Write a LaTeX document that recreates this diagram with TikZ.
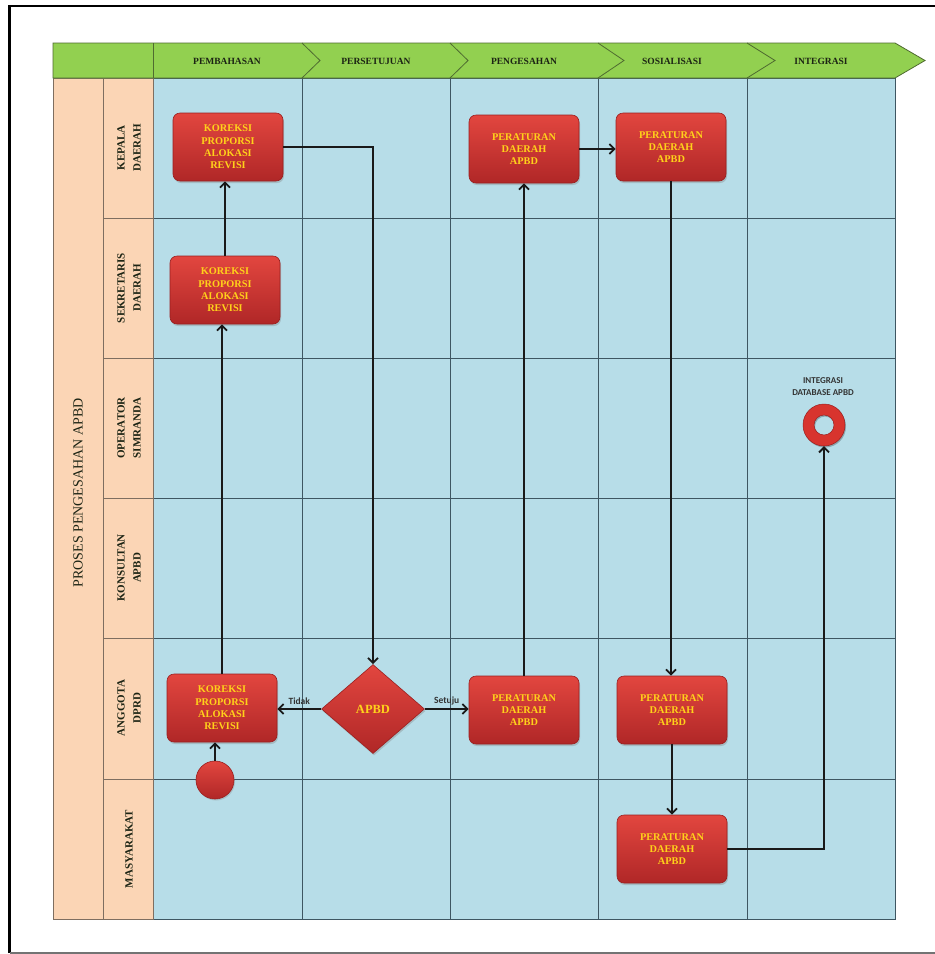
\documentclass[tikz,border=0pt]{standalone}
\usepackage{fontspec}
\setmainfont{Liberation Serif}
\newfontfamily\calib{Carlito}
\usetikzlibrary{arrows.meta,shapes.geometric,shadows}
\definecolor{hdrgreen}{HTML}{92D050}
\definecolor{hdrline}{HTML}{4F6B30}
\definecolor{laneblue}{HTML}{B7DDE8}
\definecolor{lanepeach}{HTML}{FBD5B5}
\definecolor{gridline}{HTML}{3E5662}
\definecolor{peachline}{HTML}{7E6E60}
\definecolor{boxtop}{HTML}{E2463F}
\definecolor{boxbot}{HTML}{B02727}
\definecolor{boxedge}{HTML}{9A1F1F}
\definecolor{boxtext}{HTML}{FFD21A}
\definecolor{ringred}{HTML}{D8342E}
\definecolor{darktext}{HTML}{1C2414}
\tikzset{
  hdrlabel/.style={font=\bfseries\fontsize{9.5}{11}\selectfont, text=darktext},
  rowlabel/.style={rotate=90, align=center, font=\bfseries\fontsize{11}{16}\selectfont, text=darktext},
  procbox/.style={rectangle, rounded corners=7pt, minimum width=110pt, minimum height=68pt,
    inner sep=0pt, top color=boxtop, bottom color=boxbot, draw=boxedge, line width=0.6pt,
    drop shadow={opacity=0.35, shadow xshift=1pt, shadow yshift=-2pt},
    text=boxtext, align=center, font=\bfseries\fontsize{10.3}{12.3}\selectfont},
  decision/.style={diamond, minimum width=103pt, minimum height=89pt, inner sep=0pt,
    top color=boxtop, bottom color=boxbot, draw=boxedge, line width=0.6pt,
    drop shadow={opacity=0.35, shadow xshift=1pt, shadow yshift=-2pt},
    text=boxtext, font=\bfseries\fontsize{12.5}{14}\selectfont},
  startdot/.style={circle, minimum size=38pt, inner sep=0pt, top color=boxtop, bottom color=boxbot,
    draw=boxedge, line width=0.6pt, drop shadow={opacity=0.3, shadow xshift=1pt, shadow yshift=-1.5pt}},
  flow/.style={line width=1.8pt, draw=black!90, -{Straight Barb[length=5pt,width=10pt]}},
  flowlabel/.style={font=\calib\bfseries\fontsize{9.5}{10}\selectfont, text=black!80},
}
\begin{document}
\begin{tikzpicture}[x=1pt,y=-1pt]
\useasboundingbox (0,0) rectangle (935,954);
\fill[white] (0,0) rectangle (935,954);
% frame
\draw[line width=2.5pt, black] (9.5,953) -- (9.5,6) -- (935,6);
\draw[line width=1.2pt, black!55] (9.5,953) -- (935,953);
% lanes
\fill[laneblue] (153,78) rectangle (895,919);
\fill[lanepeach] (53,78) rectangle (153,919);
\foreach \xx in {302,450,598,747} \draw[gridline, line width=0.8pt] (\xx,78) -- (\xx,919);
\foreach \yy in {218,358,498,638,779} {
  \draw[gridline, line width=0.8pt] (153,\yy) -- (895,\yy);
  \draw[peachline, line width=0.8pt] (103,\yy) -- (153,\yy);
}
\draw[gridline, line width=0.8pt] (153,78) rectangle (895,919);
\draw[peachline, line width=0.8pt] (53,78) rectangle (153,919);
\draw[peachline, line width=0.8pt] (103,78) -- (103,919);
% header
\draw[fill=hdrgreen, draw=hdrline, line width=0.8pt] (53,43) -- (895,43) -- (925,60.5) -- (895,78) -- (53,78) -- cycle;
\draw[hdrline, line width=0.8pt] (153,43) -- (153,78);
\foreach \bx/\tx in {302/320,450/468,598/624,747/775}
  \draw[hdrline, line width=0.8pt] (\bx,43) -- (\tx,60.5) -- (\bx,78);
\node[hdrlabel] (h1) at (227,61) {PEMBAHASAN};
\node[hdrlabel] (h2) at (376,61) {PERSETUJUAN};
\node[hdrlabel] (h3) at (524,61) {PENGESAHAN};
\node[hdrlabel] (h4) at (672,61) {SOSIALISASI};
\node[hdrlabel] (h5) at (821,61) {INTEGRASI};
% left labels
\node[rotate=90, font=\fontsize{14}{16}\selectfont, text=darktext] (proc) at (78,493) {PROSES PENGESAHAN APBD};
\node[rowlabel] (r1) at (129,148) {KEPALA\\DAERAH};
\node[rowlabel] (r2) at (129,288) {SEKRETARIS\\DAERAH};
\node[rowlabel] (r3) at (129,428) {OPERATOR\\SIMRANDA};
\node[rowlabel] (r4) at (129,568) {KONSULTAN\\APBD};
\node[rowlabel] (r5) at (129,708) {ANGGOTA\\DPRD};
\node[rowlabel] (r6) at (129,849) {MASYARAKAT};
% process nodes
\node[procbox] (k1) at (228,147) {KOREKSI\\PROPORSI\\ALOKASI\\REVISI};
\node[procbox] (s1) at (225,290) {KOREKSI\\PROPORSI\\ALOKASI\\REVISI};
\node[procbox] (a1) at (222,708) {KOREKSI\\PROPORSI\\ALOKASI\\REVISI};
\node[startdot] (st) at (215,780) {};
\node[decision] (dia) at (373,709) {APBD};
\node[procbox] (pk) at (524,149) {PERATURAN\\DAERAH\\APBD};
\node[procbox] (pa) at (524,710) {PERATURAN\\DAERAH\\APBD};
\node[procbox] (sk) at (671,147) {PERATURAN\\DAERAH\\APBD};
\node[procbox] (sa) at (672,710) {PERATURAN\\DAERAH\\APBD};
\node[procbox] (ms) at (672,849) {PERATURAN\\DAERAH\\APBD};
% end ring
\node[circle, minimum size=42pt, inner sep=0pt] (ring) at (824,425) {};
\fill[black, opacity=0.25, even odd rule] ([xshift=1pt,yshift=-1.5pt]ring.center) circle[radius=21] circle[radius=10];
\fill[ringred, even odd rule] (ring.center) circle[radius=21] circle[radius=10];
\draw[boxedge, line width=0.5pt] (ring.center) circle[radius=21] circle[radius=10];
\node[align=center, font=\calib\bfseries\fontsize{9}{12}\selectfont, text=black!80] (ringlabel) at (823,387) {INTEGRASI\\DATABASE APBD};
% connectors
\draw[flow] (k1.east) -| (dia.north);
\draw[flow] (dia.west) -- (dia.west -| a1.east) node[flowlabel, midway, above=0pt] {Tidak};
\draw[flow] (dia.east) -- (dia.east -| pa.west) node[flowlabel, midway, above=0pt] {Setuju};
\draw[flow] (a1.north) -- (a1.north |- s1.south);
\draw[flow] (s1.north) -- (s1.north |- k1.south);
\draw[flow] (st.north) -- (st.north |- a1.south);
\draw[flow] (pa.north) -- (pk.south);
\draw[flow] (pk.east) -- (pk.east -| sk.west);
\draw[flow] (sk.south) -- (sk.south |- sa.north);
\draw[flow] (sa.south) -- (ms.north);
\draw[flow] (ms.east) -| (ring.south);
\end{tikzpicture}
\end{document}
